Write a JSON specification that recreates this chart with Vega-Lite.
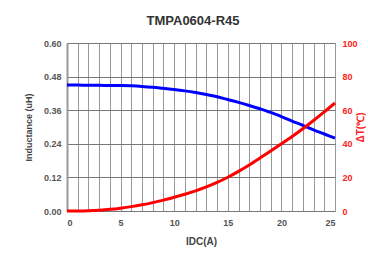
{
  "$schema": "https://vega.github.io/schema/vega-lite/v6.json",
  "autosize": "none",
  "padding": {"left": 67, "top": 43, "right": 33, "bottom": 49},
  "width": 268,
  "height": 168,
  "background": "white",
  "title": {"text": "TMPA0604-R45", "font": "Liberation Sans", "fontSize": 13, "fontWeight": "bold", "color": "#333333", "offset": 11, "dx": -8},
  "config": {
    "view": {"stroke": "#c5d0e0", "strokeWidth": 1},
    "axis": {"labelFont": "Liberation Sans", "labelFontSize": 9, "labelFontWeight": "bold", "titleFont": "Liberation Sans", "titleFontSize": 9, "titleFontWeight": "bold", "titleColor": "#444444", "labelColor": "#555555"}
  },
  "data": {"values": [
    {"I": 0, "L": 0.450, "T": 0},
    {"I": 1, "L": 0.450, "T": 0.05},
    {"I": 2, "L": 0.449, "T": 0.2},
    {"I": 3, "L": 0.449, "T": 0.5},
    {"I": 4, "L": 0.448, "T": 1.0},
    {"I": 5, "L": 0.448, "T": 1.7},
    {"I": 6, "L": 0.447, "T": 2.6},
    {"I": 7, "L": 0.445, "T": 3.7},
    {"I": 8, "L": 0.442, "T": 5.0},
    {"I": 9, "L": 0.438, "T": 6.5},
    {"I": 10, "L": 0.434, "T": 8.2},
    {"I": 11, "L": 0.429, "T": 10.0},
    {"I": 12, "L": 0.423, "T": 12.0},
    {"I": 13, "L": 0.416, "T": 14.3},
    {"I": 14, "L": 0.408, "T": 17.0},
    {"I": 15, "L": 0.398, "T": 20.1},
    {"I": 16, "L": 0.388, "T": 23.6},
    {"I": 17, "L": 0.377, "T": 27.4},
    {"I": 18, "L": 0.365, "T": 31.5},
    {"I": 19, "L": 0.352, "T": 35.7},
    {"I": 20, "L": 0.337, "T": 40.0},
    {"I": 21, "L": 0.321, "T": 44.4},
    {"I": 22, "L": 0.306, "T": 49.0},
    {"I": 23, "L": 0.290, "T": 53.9},
    {"I": 24, "L": 0.275, "T": 59.0},
    {"I": 25, "L": 0.260, "T": 64.3}
  ]},
  "encoding": {
    "x": {"field": "I", "type": "quantitative", "scale": {"domain": [0, 25], "nice": false},
      "axis": {"title": "IDC(A)", "titleFontSize": 10, "values": [0,1,2,3,4,5,6,7,8,9,10,11,12,13,14,15,16,17,18,19,20,21,22,23,24,25], "labelExpr": "datum.value % 5 === 0 ? datum.label : ''", "grid": true, "gridColor": "#999999", "gridOpacity": 1, "gridWidth": 1, "ticks": false, "domain": false, "labelPadding": 7, "titlePadding": 9}}
  },
  "layer": [
    {
      "mark": {"type": "line", "color": "#0000ff", "strokeWidth": 3, "interpolate": "monotone"},
      "encoding": {
        "y": {"field": "L", "type": "quantitative", "scale": {"domain": [0, 0.6], "nice": false},
          "axis": {"title": "Inductance  (uH)", "values": [0, 0.12, 0.24, 0.36, 0.48, 0.6], "format": ".2f", "grid": true, "gridColor": "#777777", "gridOpacity": 1, "ticks": false, "domain": true, "domainColor": "#999999", "domainWidth": 2, "labelPadding": 6, "titlePadding": 10}}
      }
    },
    {
      "mark": {"type": "line", "color": "#ff0000", "strokeWidth": 3, "interpolate": "monotone"},
      "encoding": {
        "y": {"field": "T", "type": "quantitative", "scale": {"domain": [0, 100], "nice": false},
          "axis": {"orient": "right", "title": "ΔT(℃)", "titleAngle": -90, "titleColor": "#ff2020", "titleFontSize": 10, "labelColor": "#ff2020", "values": [0, 20, 40, 60, 80, 100], "grid": false, "ticks": false, "domain": false, "labelPadding": 7, "titlePadding": 8}}
      }
    }
  ],
  "resolve": {"scale": {"y": "independent"}}
}
